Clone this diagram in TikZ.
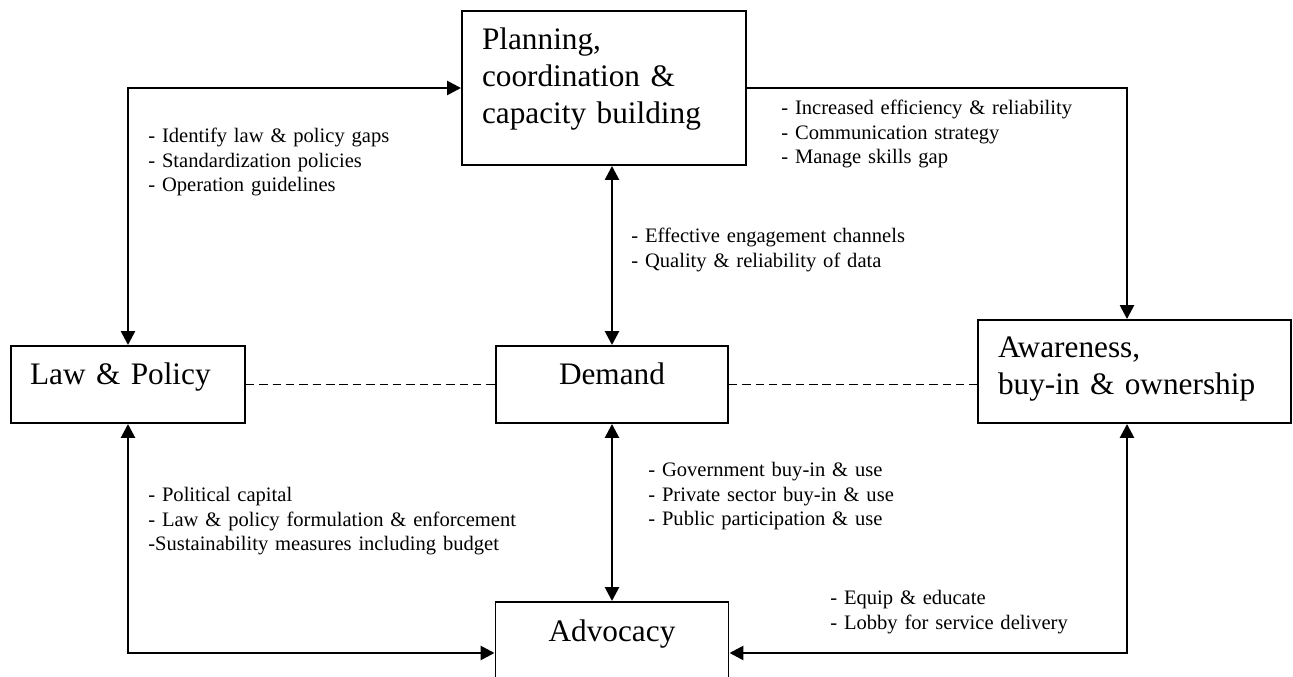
\documentclass[tikz,border=0pt]{standalone}
\usepackage{fontspec}
\setmainfont{Liberation Serif}
\usetikzlibrary{arrows.meta}

\begin{document}
\begin{tikzpicture}[
        >={Triangle[length=0.28cm, width=0.28cm]},
        box/.style={draw, line width=1.1pt, inner sep=0pt, font=\fontsize{17.8}{20.8}\selectfont},
        note/.style={anchor=base west, inner sep=0pt, text width=9cm, align=left, font=\fontsize{11.7}{13.9}\selectfont},
        link/.style={line width=1.5pt},
        dashlink/.style={line width=0.9pt, dash pattern=on 4.8pt off 2.8pt}]
            \clip (0, 0) rectangle (25.86, 13.54);
            \node[box, minimum width=5.68cm, minimum height=3.08cm, text width=4.88cm, align=left, text height=0.5cm, text depth=2.02cm] (planning) at (12.08, 11.78) {Planning,\\ coordination \&\\ capacity building};
            \node[box, minimum width=4.68cm, minimum height=1.54cm, text width=3.92cm, align=left, text height=0.3cm, text depth=0.3cm] (law) at (2.56, 5.85) {Law \& Policy};
            \node[box, minimum width=4.64cm, minimum height=1.54cm, text height=0.3cm, text depth=0.3cm] (demand) at (12.24, 5.85) {Demand};
            \node[box, minimum width=6.26cm, minimum height=2.06cm, text width=5.46cm, align=left, text height=0.5cm, text depth=1.04cm] (awareness) at (22.69, 6.11) {Awareness,\\ buy-in \& ownership};
            \node[box, minimum width=4.66cm, minimum height=2.04cm, text height=0.3cm, text depth=0.74cm] (advocacy) at (12.24, 0.48) {Advocacy};
            \draw[link, <->] (law.north) |- (planning.west);
            \draw[link, ->] (planning.east) -| ([xshift=-0.15cm]awareness.north);
            \draw[link, <->] (demand.north |- planning.south) -- (demand.north);
            \draw[link, <->] (demand.south) -- (advocacy.north);
            \draw[link, <->] (law.south) |- (advocacy.west);
            \draw[link, <->] ([xshift=-0.15cm]awareness.south) |- (advocacy.east);
            \draw[dashlink] (law.east) -- (demand.west);
            \draw[dashlink] (demand.east) -- (demand.east -| awareness.west);
            \node[note] (gaps) at (2.96, 10.68) {- Identify law \& policy gaps\\ - Standardization policies\\ - Operation guidelines};
            \node[note] (efficiency) at (15.62, 11.24) {- Increased efficiency \& reliability\\ - Communication strategy\\ - Manage skills gap};
            \node[note] (channels) at (12.62, 8.68) {- Effective engagement channels\\ - Quality \& reliability of data};
            \node[note] (capital) at (2.96, 3.50) {- Political capital\\ - Law \& policy formulation \& enforcement\\ -Sustainability measures including budget};
            \node[note] (buyin) at (12.96, 4.00) {- Government buy-in \& use\\ - Private sector buy-in \& use\\ - Public participation \& use};
            \node[note] (lobby) at (16.60, 1.44) {- Equip \& educate\\ - Lobby for service delivery};
        \end{tikzpicture}
\end{document}
